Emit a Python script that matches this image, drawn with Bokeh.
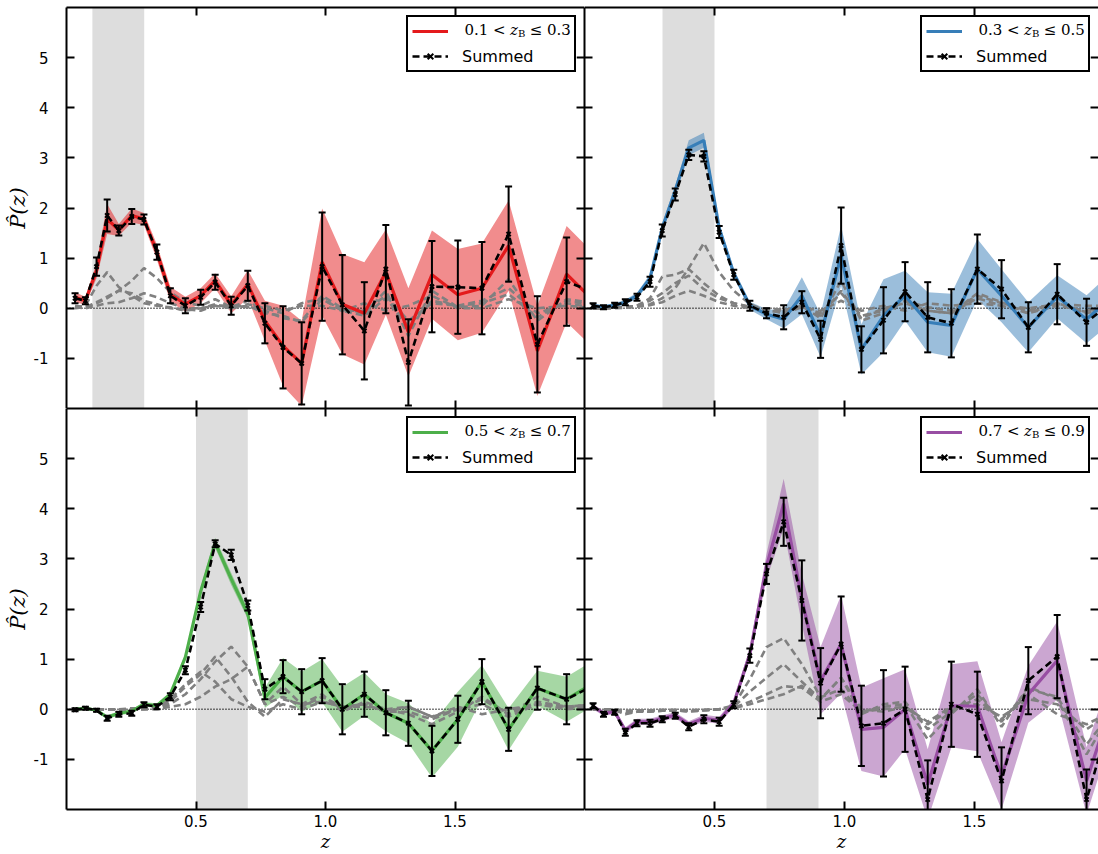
from bokeh.plotting import figure
from bokeh.models import (ColumnDataSource, Whisker, TeeHead, BoxAnnotation, Span, Legend,
                          LegendItem, LinearAxis, FixedTicker, PrintfTickFormatter, Range1d,
                          Label, CustomJSTickFormatter)
from bokeh.layouts import gridplot
from bokeh.embed import file_html
from bokeh.resources import INLINE

# ---------------- data ----------------
z = [0.033, 0.073, 0.116, 0.157, 0.202, 0.252, 0.299, 0.349, 0.401, 0.459, 0.518, 0.574,
     0.636, 0.700, 0.766, 0.836, 0.908, 0.987, 1.065, 1.150, 1.233, 1.320, 1.411, 1.511,
     1.604, 1.707, 1.818, 1.931, 2.045]

bin_lo = [0.1, 0.3, 0.5, 0.7]
bin_hi = [0.3, 0.5, 0.7, 0.9]
bin_lo_txt = ["0.1", "0.3", "0.5", "0.7"]
bin_hi_txt = ["0.3", "0.5", "0.7", "0.9"]
bin_colors = ["#e41a1c", "#377eb8", "#4daf4a", "#984ea3"]
y_ticks = [-1, 0, 1, 2, 3, 4, 5]
x_ticks = [0.5, 1.0, 1.5]

# bin 1 : 0.1 < zB <= 0.3
sum1 = [0.20, 0.15, 0.83, 1.85, 1.55, 1.83, 1.77, 1.12, 0.25, 0.05, 0.22, 0.52, 0.05, 0.45,
        -0.30, -0.78, -1.10, 0.83, 0.07, -0.45, 0.78, -1.08, 0.43, 0.42, 0.40, 1.48, -0.72,
        0.53, 0.30]
err1 = [0.10, 0.07, 0.18, 0.32, 0.10, 0.15, 0.10, 0.15, 0.15, 0.15, 0.15, 0.15, 0.18, 0.30,
        0.40, 0.82, 0.82, 1.08, 0.99, 0.97, 0.88, 0.86, 0.91, 0.93, 0.92, 0.95, 0.96, 0.88, 0.90]
col1 = [0.22, 0.15, 0.75, 1.78, 1.56, 1.85, 1.78, 1.12, 0.28, 0.08, 0.25, 0.55, 0.07, 0.48,
        -0.25, -0.75, -1.10, 0.92, 0.08, -0.10, 0.72, -0.48, 0.67, 0.27, 0.40, 1.25, -0.85,
        0.68, 0.10]
band1 = [0.10, 0.08, 0.15, 0.30, 0.12, 0.14, 0.12, 0.15, 0.15, 0.15, 0.15, 0.15, 0.17, 0.28,
         0.40, 0.80, 0.85, 1.07, 1.00, 1.02, 0.85, 0.88, 0.88, 0.91, 0.89, 0.90, 0.90, 0.96, 0.95]
g1a = [0.02, 0.05, 0.45, 0.72, 0.42, 0.25, 0.10, 0.05, 0.02, -0.05, 0.00, 0.08, 0.00, 0.05,
       -0.10, -0.15, -0.28, 0.18, -0.05, -0.15, 0.20, -0.35, 0.15, 0.05, 0.10, 0.28, -0.18, 0.15, 0.05]
g1b = [0.00, 0.02, 0.12, 0.23, 0.35, 0.55, 0.80, 0.60, 0.32, 0.12, 0.05, 0.18, 0.02, 0.15,
       -0.05, -0.20, -0.25, 0.25, 0.00, -0.10, 0.35, -0.55, 0.35, 0.02, 0.05, 0.58, -0.25, 0.18, 0.10]
g1c = [0.05, 0.02, 0.10, 0.20, 0.35, 0.30, 0.15, 0.08, 0.00, -0.02, -0.05, 0.05, 0.05, 0.02,
       0.05, -0.05, 0.05, 0.05, -0.05, 0.10, -0.05, 0.05, 0.25, 0.00, 0.00, 0.18, 0.00, 0.05, 0.00]
g1d = [0.02, 0.00, 0.05, 0.10, 0.12, 0.20, 0.30, 0.22, 0.10, 0.00, 0.00, 0.05, 0.00, 0.08,
       0.00, -0.10, 0.10, 0.20, -0.05, -0.05, 0.25, -0.25, 0.10, 0.05, 0.15, 0.40, -0.10, 0.10, 0.00]

# bin 2 : 0.3 < zB <= 0.5
sum2 = [0.05, 0.02, 0.06, 0.12, 0.22, 0.53, 1.55, 2.27, 3.06, 3.03, 1.52, 0.67, 0.05, -0.10,
        -0.18, 0.12, -0.62, 1.25, -0.82, -0.24, 0.33, -0.18, -0.30, 0.78, 0.38, -0.38, 0.28,
        -0.28, 0.20]
err2 = [0.05, 0.04, 0.05, 0.06, 0.07, 0.10, 0.12, 0.12, 0.10, 0.10, 0.12, 0.10, 0.10, 0.10,
        0.24, 0.22, 0.37, 0.76, 0.46, 0.66, 0.59, 0.70, 0.68, 0.69, 0.58, 0.50, 0.60, 0.47, 0.50]
col2 = [0.05, 0.03, 0.06, 0.12, 0.25, 0.60, 1.60, 2.35, 3.20, 3.35, 1.60, 0.70, 0.05, -0.12,
        -0.22, 0.25, -0.55, 1.05, -0.82, -0.15, 0.25, -0.28, -0.34, 0.78, 0.25, -0.38, 0.23,
        -0.22, 0.30]
band2 = [0.04, 0.03, 0.04, 0.05, 0.06, 0.08, 0.10, 0.10, 0.15, 0.15, 0.10, 0.08, 0.08, 0.10,
         0.18, 0.37, 0.43, 0.60, 0.50, 0.73, 0.50, 0.60, 0.63, 0.60, 0.53, 0.50, 0.43, 0.48, 0.50]
g2a = [0.00, 0.00, 0.01, 0.02, 0.05, 0.20, 0.63, 0.67, 0.78, 0.50, 0.25, 0.10, 0.02, -0.05,
       -0.05, 0.05, -0.15, 0.35, -0.20, 0.00, 0.10, -0.05, -0.10, 0.20, 0.05, -0.10, 0.05, -0.05, 0.05]
g2b = [0.00, 0.00, 0.01, 0.02, 0.05, 0.15, 0.30, 0.50, 0.65, 0.38, 0.20, 0.10, 0.03, -0.02,
       -0.10, 0.02, -0.10, 0.30, -0.15, -0.05, 0.15, 0.02, -0.05, 0.25, 0.10, -0.05, 0.10, -0.08, 0.05]
g2c = [0.00, 0.00, 0.01, 0.02, 0.04, 0.08, 0.20, 0.40, 0.80, 1.30, 0.72, 0.35, 0.08, -0.05,
       -0.08, 0.05, -0.20, 0.55, -0.25, -0.10, 0.15, -0.05, -0.10, 0.30, 0.12, -0.10, 0.10, -0.10, 0.05]
g2d = [0.00, 0.00, 0.00, 0.01, 0.03, 0.06, 0.12, 0.25, 0.35, 0.25, 0.12, 0.05, 0.00, 0.00,
       -0.03, 0.02, -0.05, 0.15, -0.05, 0.05, -0.05, 0.10, 0.05, 0.10, 0.05, 0.00, 0.08, 0.05, 0.05]

# bin 3 : 0.5 < zB <= 0.7
sum3 = [-0.01, 0.02, -0.02, -0.18, -0.10, -0.08, 0.09, 0.05, 0.25, 0.78, 2.04, 3.30, 3.08,
        2.07, 0.40, 0.65, 0.35, 0.57, 0.00, 0.30, -0.07, -0.28, -0.83, -0.20, 0.55, -0.40,
        0.42, 0.20, 0.50]
err3 = [0.03, 0.03, 0.03, 0.05, 0.05, 0.05, 0.05, 0.05, 0.07, 0.08, 0.10, 0.07, 0.10, 0.10,
        0.20, 0.33, 0.45, 0.45, 0.50, 0.45, 0.45, 0.45, 0.50, 0.47, 0.45, 0.43, 0.43, 0.50, 0.45]
col3 = [0.00, 0.02, -0.02, -0.16, -0.08, -0.04, 0.10, 0.07, 0.30, 1.04, 2.35, 3.32, 2.60,
        1.90, 0.23, 0.65, 0.35, 0.57, 0.00, 0.30, -0.07, -0.28, -0.83, -0.20, 0.55, -0.40,
        0.42, 0.20, 0.55]
band3 = [0.03, 0.03, 0.03, 0.04, 0.04, 0.04, 0.04, 0.05, 0.05, 0.06, 0.08, 0.10, 0.12, 0.10,
         0.20, 0.37, 0.40, 0.43, 0.45, 0.43, 0.37, 0.40, 0.53, 0.55, 0.33, 0.42, 0.35, 0.45, 0.45]
g3a = [0.00, 0.00, 0.00, 0.00, 0.00, 0.00, 0.00, 0.02, 0.10, 0.30, 0.60, 0.95, 1.25, 0.85,
       0.10, 0.45, 0.10, 0.30, -0.05, 0.15, 0.00, -0.10, -0.30, -0.05, 0.25, -0.10, 0.25, 0.05, 0.10]
g3b = [0.00, 0.00, 0.00, 0.00, 0.00, 0.00, 0.00, 0.02, 0.15, 0.45, 0.70, 1.05, 0.65, 0.15,
       -0.15, 0.20, 0.10, 0.15, 0.05, 0.10, -0.05, -0.05, -0.20, 0.00, 0.10, -0.15, 0.10, 0.05, 0.05]
g3c = [0.00, 0.00, 0.00, 0.00, 0.00, 0.02, 0.02, 0.05, 0.20, 0.50, 0.75, 0.55, 0.20, 0.05,
       -0.05, 0.10, 0.00, 0.15, 0.05, 0.05, 0.00, 0.05, -0.15, 0.05, -0.10, 0.00, 0.10, 0.00, 0.05]
g3d = [0.00, 0.00, 0.00, 0.00, 0.00, 0.00, 0.00, 0.00, 0.05, 0.10, 0.25, 0.45, 0.60, 0.85,
       0.10, 0.25, 0.05, 0.25, 0.05, 0.10, -0.05, 0.05, -0.15, 0.00, 0.20, -0.10, 0.15, 0.05, 0.10]

# bin 4 : 0.7 < zB <= 0.9
sum4 = [0.07, -0.10, -0.06, -0.46, -0.28, -0.28, -0.20, -0.13, -0.35, -0.20, -0.25, 0.09,
        1.07, 2.70, 3.74, 2.17, 0.52, 1.30, -0.33, -0.28, 0.00, -1.80, 0.10, -0.10, -1.43,
        0.57, 1.05, -1.80, 0.20]
err4 = [0.05, 0.05, 0.05, 0.07, 0.06, 0.07, 0.06, 0.06, 0.07, 0.08, 0.08, 0.07, 0.14, 0.20,
        0.48, 0.80, 0.70, 0.95, 0.80, 1.06, 0.85, 0.78, 0.85, 0.85, 0.67, 0.67, 0.83, 0.60, 0.70]
col4 = [0.05, -0.08, -0.05, -0.42, -0.25, -0.25, -0.18, -0.12, -0.30, -0.18, -0.22, 0.12,
        1.10, 2.85, 4.10, 2.20, 0.57, 1.30, -0.40, -0.36, 0.00, -1.50, 0.07, 0.06, -1.33,
        0.30, 0.97, -1.43, 0.40]
band4 = [0.05, 0.05, 0.05, 0.06, 0.06, 0.06, 0.06, 0.06, 0.06, 0.07, 0.07, 0.08, 0.12, 0.25,
         0.50, 0.50, 0.67, 0.98, 0.83, 0.98, 0.80, 0.70, 0.83, 0.90, 0.67, 0.57, 0.78, 0.67, 0.65]
g4a = [0.00, -0.02, -0.02, -0.10, -0.05, -0.05, -0.03, -0.02, -0.05, -0.02, 0.00, 0.08, 0.60,
       1.24, 1.42, 0.90, 0.24, 0.40, -0.05, 0.05, 0.10, -0.60, -0.10, 0.40, -0.35, 0.45, 0.20, -0.90, 0.10]
g4b = [0.00, 0.00, -0.02, -0.08, -0.05, -0.04, -0.03, -0.02, -0.04, -0.02, 0.00, 0.05, 0.35,
       0.63, 0.90, 0.55, 0.20, 0.63, -0.10, 0.10, 0.15, -0.40, -0.05, 0.30, -0.25, 0.40, 0.25, -0.70, 0.05]
g4c = [0.00, 0.00, 0.00, -0.05, -0.03, -0.03, -0.02, -0.02, -0.03, -0.02, 0.00, 0.03, 0.15,
       0.30, 0.46, 0.43, 0.15, 0.30, -0.05, 0.00, 0.05, -0.25, 0.05, 0.10, -0.15, 0.20, 0.10, -0.40, 0.00]
g4d = [0.00, 0.00, 0.00, -0.03, -0.02, -0.02, -0.01, -0.01, -0.02, -0.01, 0.00, 0.02, 0.10,
       0.20, 0.30, 0.47, 0.20, 0.63, 0.00, -0.05, 0.05, -0.30, 0.00, 0.20, -0.20, 0.30, -0.10, -0.30, 0.00]

summed = [sum1, sum2, sum3, sum4]
errors = [err1, err2, err3, err4]
colored = [col1, col2, col3, col4]
bands = [band1, band2, band3, band4]
grays = [[g1a, g1b, g1c, g1d], [g2a, g2b, g2c, g2d], [g3a, g3b, g3c, g3d], [g4a, g4b, g4c, g4d]]

# ---------------- layout constants ----------------
FW = [518, 514]
FH = [401, 401]
PX_PER_UNIT_RIGHT = 260.0
TICK_FONT = "DejaVu Sans"


def style_axis(ax, ticks, show_labels, fmt=None):
    ax.ticker = FixedTicker(ticks=ticks)
    ax.major_tick_in = 8
    ax.major_tick_out = 0
    ax.minor_tick_line_color = None
    ax.axis_line_width = 2
    ax.axis_line_color = "black"
    ax.major_tick_line_width = 2
    ax.major_tick_line_color = "black"
    if show_labels:
        ax.major_label_text_font = TICK_FONT
        ax.major_label_text_font_size = "15px"
        ax.major_label_text_color = "black"
        if fmt is not None:
            ax.formatter = fmt
    else:
        ax.major_label_text_font_size = "0px"
        ax.major_label_standoff = 0
        ax.formatter = CustomJSTickFormatter(code="return ''")
        ax.axis_label = None


def make_panel(i, ci, ri):
    fw, fh = FW[ci], FH[ri]
    xend = 2.0 if ci == 0 else fw / PX_PER_UNIT_RIGHT
    p = figure(frame_width=fw, frame_height=fh, x_range=Range1d(0, xend),
               y_range=Range1d(-2, 6), output_backend="svg", toolbar_location=None,
               min_border_left=66 if ci == 0 else 0, min_border_right=0,
               min_border_top=7 if ri == 0 else 0, min_border_bottom=0,
               background_fill_color="white", border_fill_color="white")
    p.outline_line_color = None
    p.grid.visible = False

    S, E, C, B = summed[i], errors[i], colored[i], bands[i]
    G = grays[i]
    data = dict(z=z, s=S, c=C,
                lo=[a - b for a, b in zip(S, E)], up=[a + b for a, b in zip(S, E)],
                blo=[a - b for a, b in zip(C, B)], bhi=[a + b for a, b in zip(C, B)])
    for k, g in enumerate(G):
        data["g%d" % k] = g
    src = ColumnDataSource(data)
    color = bin_colors[i]

    p.add_layout(BoxAnnotation(left=bin_lo[i], right=bin_hi[i], fill_color="#dddddd",
                               fill_alpha=1.0, line_color=None, level="underlay"))
    p.varea(x="z", y1="blo", y2="bhi", source=src, fill_color=color, fill_alpha=0.5)
    zero = Span(location=0, dimension="width", line_color="black", line_width=1.3,
                line_dash="1 2", level="glyph")
    p.renderers.append(zero)
    for k in range(len(G)):
        p.line("z", "g%d" % k, source=src, line_color="#808080", line_width=2.6,
               line_dash="7 4")
    cl = p.line("z", "c", source=src, line_color=color, line_width=3.2)
    sl = p.line("z", "s", source=src, line_color="black", line_width=2.6, line_dash="7 4")
    sm = p.scatter("z", "s", source=src, marker="x", size=6, line_width=2, color="black")
    p.add_layout(Whisker(source=src, base="z", lower="lo", upper="up", line_width=2,
                         line_color="black", level="annotation",
                         upper_head=TeeHead(size=7, line_width=2, line_color="black"),
                         lower_head=TeeHead(size=7, line_width=2, line_color="black")))

    # axes (keep direct references)
    xb = p.below[0]
    yl = p.left[0]
    style_axis(xb, x_ticks, ri == 1, PrintfTickFormatter(format="%.1f"))
    style_axis(yl, y_ticks, ci == 0, PrintfTickFormatter(format="%d"))
    ra = LinearAxis()
    p.add_layout(ra, "right")
    style_axis(ra, y_ticks, False)
    if ci == 1:
        ra.axis_line_color = None
    aa = LinearAxis()
    p.add_layout(aa, "above")
    style_axis(aa, x_ticks, False)
    if ci == 0:
        yl.axis_label = "P\u0302(z)"
        yl.axis_label_text_font = "DejaVu Serif"
        yl.axis_label_text_font_style = "italic"
        yl.axis_label_text_font_size = "21px"
        yl.axis_label_text_color = "black"
        yl.axis_label_standoff = 1
        yl.major_label_standoff = 18
    if ri == 1:
        xb.axis_label = "z"
        xb.axis_label_text_font = "DejaVu Serif"
        xb.axis_label_text_font_style = "italic"
        xb.axis_label_text_font_size = "18px"
        xb.axis_label_text_color = "black"
        xb.axis_label_standoff = 1
        xb.major_label_standoff = 5

    # legend: opaque white box below, math-style label pieces, then the legend itself
    margin, pad, gw, gh, lw, ls, sp = 8, 4, 36, 20, 108, 14, 5
    leg_w = 2 * pad + gw + ls + lw
    leg_h = 2 * pad + 2 * gh + sp
    px2x = xend / fw
    px2y = 8.0 / fh
    p.add_layout(BoxAnnotation(left=xend - (margin + leg_w) * px2x, right=xend - margin * px2x,
                               top=6 - margin * px2y, bottom=6 - (margin + leg_h) * px2y,
                               fill_color="white", fill_alpha=1.0, line_color=None,
                               level="annotation"))
    text_x0 = fw - margin - leg_w + pad + gw + ls
    row_y = margin + pad + gh / 2.0
    ydat = 6 - row_y * px2y
    pieces = [(bin_lo_txt[i] + " <", 0.0, "normal", "15px", 0),
              ("z", 45.5, "italic", "15px", 0),
              ("B", 53.4, "normal", "10px", -4),
              ("\u2264 " + bin_hi_txt[i], 65.2, "normal", "15px", 0)]
    for txt, dx, style, size, yo in pieces:
        p.add_layout(Label(x=(text_x0 + dx) * px2x, y=ydat, text=txt,
                           text_font="DejaVu Serif", text_font_style=style,
                           text_font_size=size, text_baseline="middle", text_align="left",
                           y_offset=yo, text_color="black", level="annotation"))
    legend = Legend(items=[LegendItem(label=" ", renderers=[cl]),
                           LegendItem(label="Summed", renderers=[sl, sm])],
                    location="top_right", margin=margin, padding=pad, spacing=sp,
                    glyph_width=gw, glyph_height=gh, label_height=gh, label_width=lw,
                    label_standoff=ls, border_line_color="black", border_line_width=2,
                    border_line_alpha=1.0, background_fill_alpha=0.0,
                    label_text_font="DejaVu Sans", label_text_font_size="16px",
                    label_text_color="black")
    p.add_layout(legend)
    return p


figs = [[make_panel(0, 0, 0), make_panel(1, 1, 0)],
        [make_panel(2, 0, 1), make_panel(3, 1, 1)]]
grid = gridplot(figs, toolbar_location=None)

open("out.html", "w").write(file_html(grid, INLINE))
